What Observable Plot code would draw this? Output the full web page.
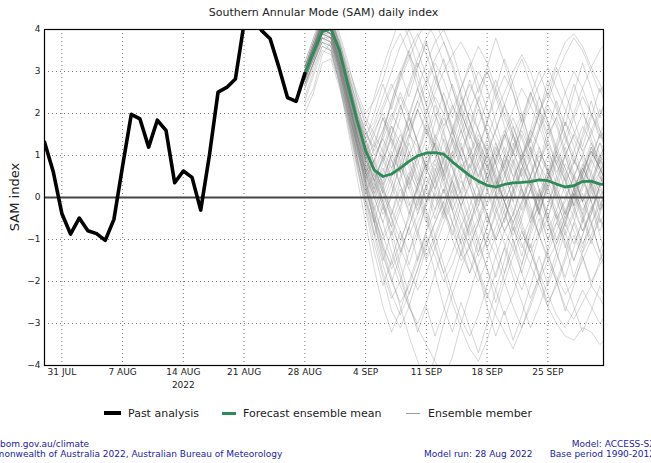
<!DOCTYPE html>
<html><head><meta charset="utf-8">
<script src="https://cdn.jsdelivr.net/npm/d3@7"></script>
<script src="https://cdn.jsdelivr.net/npm/@observablehq/plot@0.6"></script>
<style>
html,body{margin:0;padding:0;background:#fff;overflow:hidden;}
body{width:651px;height:463px;position:relative;font-family:"DejaVu Sans",sans-serif;}
#chart{position:absolute;top:0;left:0;}
#title{position:absolute;top:6px;left:44px;width:559px;text-align:center;font-size:11px;line-height:13px;color:#222;white-space:nowrap;}
#ylabel{position:absolute;left:14px;top:197px;transform:translate(-50%,-50%) rotate(-90deg);font-size:13px;color:#222;white-space:nowrap;}
.lg{position:absolute;font-size:11px;line-height:13px;top:407px;color:#222;white-space:nowrap;}
.sw{position:absolute;}
.ft{position:absolute;font-size:9px;line-height:10px;color:#2222aa;white-space:nowrap;}
</style>
</head><body>
<div id="chart"></div>
<div id="title">Southern Annular Mode (SAM) daily index</div>
<div id="ylabel">SAM index</div>
<div class="sw" style="left:104px;top:411px;width:17px;height:4px;background:#000"></div>
<div class="lg" style="left:128px">Past analysis</div>
<div class="sw" style="left:222px;top:412px;width:14px;height:3px;background:#2e8b57"></div>
<div class="lg" style="left:243px">Forecast ensemble mean</div>
<div class="sw" style="left:406px;top:413px;width:14px;height:1px;background:#999"></div>
<div class="lg" style="left:428px">Ensemble member</div>
<div class="ft" id="f1" style="top:439px">www.bom.gov.au/climate</div>
<div class="ft" id="f2" style="top:449px">© Commonwealth of Australia 2022, Australian Bureau of Meteorology</div>
<div class="ft" style="top:449px;left:424px">Model run: 28 Aug 2022</div>
<div class="ft" style="top:439px;right:-4px;text-align:right">Model: ACCESS-S2<br>Base period 1990-2012</div>
<script>
// Past analysis, daily from 29 Jul 2022 to 28 Aug 2022
const pastStart = "2022-07-29";
const pastValues = [1.32, 0.62, -0.38, -0.87, -0.49, -0.79, -0.86, -1.02, -0.52, 0.75,
  1.98, 1.87, 1.20, 1.84, 1.60, 0.35, 0.63, 0.48, -0.30, 1.00,
  2.51, 2.62, 2.82, 4.15, 4.30, 3.98, 3.78, 3.11, 2.38, 2.29, 2.95];

// Forecast ensemble mean, daily from 28 Aug 2022
const forecastStart = "2022-08-28";
const meanValues = [2.95, 3.45, 3.95, 4.02, 3.50, 2.65, 1.85, 1.12, 0.65, 0.50,
  0.56, 0.70, 0.86, 0.99, 1.06, 1.07, 1.03, 0.85, 0.68, 0.52,
  0.39, 0.29, 0.25, 0.31, 0.35, 0.36, 0.38, 0.42, 0.40, 0.32,
  0.25, 0.28, 0.38, 0.39, 0.32, 0.30];

// Ensemble members (a subset), daily from 28 Aug 2022
const members = [
"2.9 3.5 4.1 4.0 3.3 2.4 1.5 0.8 0.2 -0.3 0.1 0.8 1.5 1.2 0.6 0.9 1.6 2.2 1.8 1.1 0.4 -0.2 0.3 1.0 0.7 0.1 -0.6 -0.2 0.5 1.2 1.8 1.4 0.9 0.3 0.6 1.1",
"3.0 3.6 4.2 4.1 3.4 2.7 2.0 1.5 1.2 1.6 2.3 2.9 3.4 3.0 2.2 1.4 0.8 0.2 -0.4 -0.9 -0.5 0.2 0.9 1.5 1.1 0.5 0.9 1.6 2.1 1.7 1.0 0.4 -0.1 0.3 0.9 0.6",
"2.8 3.3 3.9 3.7 3.0 2.1 1.2 0.3 -0.5 -1.2 -1.6 -1.1 -0.4 0.3 0.8 0.4 -0.3 -1.0 -1.5 -1.2 -0.6 0.1 0.7 1.2 0.8 0.2 -0.4 -0.9 -0.5 0.2 0.8 0.5 -0.1 -0.6 -0.2 0.4",
"3.0 3.5 4.0 4.2 3.6 2.9 2.3 1.8 1.3 0.9 0.4 -0.1 0.5 1.1 1.8 2.4 2.0 1.3 0.7 1.0 1.7 2.3 2.8 2.2 1.5 0.8 0.3 -0.3 0.2 0.8 0.4 -0.2 0.3 1.0 1.5 1.2",
"2.9 3.4 3.8 3.6 2.9 2.0 1.0 0.0 -0.9 -1.8 -2.4 -2.0 -1.3 -0.6 -0.1 0.5 1.1 0.7 0.0 -0.6 -0.2 0.4 1.0 0.6 -0.1 -0.7 -1.3 -0.8 -0.2 0.5 0.1 -0.5 -1.1 -0.7 0.0 0.4",
"3.1 3.7 4.3 4.4 3.8 3.1 2.5 2.0 2.3 2.8 3.5 3.9 3.4 2.6 1.9 1.2 0.6 1.1 1.8 2.5 3.0 2.6 1.8 1.1 0.5 0.9 1.5 2.1 1.7 1.0 0.4 0.8 1.4 2.0 1.6 1.2",
"2.7 3.2 3.7 3.6 2.8 1.9 1.1 0.5 0.0 0.4 1.0 0.6 -0.1 -0.8 -1.4 -0.9 -0.3 0.4 1.1 1.6 1.2 0.5 -0.2 -0.8 -0.4 0.3 1.0 1.6 2.2 1.8 1.1 0.5 -0.1 0.4 1.0 0.7",
"3.0 3.4 4.0 3.9 3.1 2.3 1.4 0.6 0.9 1.5 2.0 1.6 0.9 0.3 -0.3 -0.9 -1.6 -2.3 -2.9 -3.3 -2.8 -2.1 -1.4 -0.8 -1.2 -1.8 -2.4 -1.9 -1.2 -0.6 -1.0 -1.5 -0.9 -0.3 0.2 -0.2",
"2.9 3.5 4.1 3.9 3.2 2.5 1.7 1.0 0.4 -0.2 0.3 1.0 1.7 2.3 2.8 3.3 3.7 3.2 2.5 1.8 1.3 0.7 0.2 0.6 1.2 1.9 2.5 2.0 1.4 0.8 1.3 1.9 2.4 2.0 1.5 1.0",
"2.6 3.1 3.6 3.5 2.7 1.7 0.7 -0.2 -1.1 -1.9 -2.7 -3.1 -2.6 -1.9 -1.2 -0.6 -0.1 0.4 -0.2 -0.8 -1.4 -1.0 -0.3 0.3 0.9 0.5 -0.2 -0.9 -1.5 -1.1 -0.4 0.2 0.7 0.3 -0.3 0.1",
"3.0 3.6 4.1 4.0 3.5 2.8 2.1 1.6 1.0 1.4 1.9 2.5 2.0 1.3 0.7 0.2 0.7 1.3 2.0 1.5 0.8 0.2 -0.5 -1.1 -1.7 -2.2 -1.6 -0.9 -0.2 0.4 1.0 1.5 1.1 0.5 -0.1 -0.6",
"2.9 3.5 4.0 4.1 3.4 2.6 1.8 1.1 0.6 0.1 -0.5 -1.0 -0.5 0.2 0.9 1.5 1.0 0.4 -0.2 0.4 1.1 1.8 2.4 2.9 2.5 1.8 1.1 0.6 0.1 -0.4 -0.9 -0.4 0.2 0.8 1.3 1.0",
"2.3 2.9 3.5 3.4 2.7 1.9 1.0 0.2 -0.5 -1.0 -0.6 0.0 0.6 0.2 -0.4 -1.1 -1.8 -2.5 -3.1 -3.6 -3.9 -3.4 -2.7 -2.0 -1.4 -0.8 -1.3 -1.9 -2.5 -2.1 -1.5 -0.9 -1.4 -2.0 -1.6 -1.2",
"3.1 3.7 4.2 4.3 3.7 3.0 2.4 1.9 1.5 1.1 0.7 1.3 2.0 2.6 3.2 3.7 4.0 3.5 2.8 2.2 1.6 1.1 1.6 2.2 2.8 3.3 2.7 2.1 1.5 1.9 2.5 3.0 2.6 2.0 1.4 1.8",
"2.8 3.4 3.9 3.8 3.0 2.1 1.3 0.6 0.0 -0.6 -1.3 -1.9 -2.6 -3.0 -2.5 -1.8 -1.2 -0.6 0.0 0.6 0.2 -0.4 -1.0 -0.5 0.1 0.7 1.2 0.8 0.2 -0.3 -0.8 -0.3 0.3 0.9 0.5 0.0",
"3.0 3.5 4.0 4.0 3.3 2.5 1.6 0.9 1.3 1.9 1.4 0.8 0.2 -0.3 0.3 0.9 0.4 -0.2 -0.7 -0.2 0.4 1.0 0.5 -0.1 -0.6 -0.1 0.5 1.1 0.7 0.1 -0.5 -0.1 0.6 1.2 0.8 0.3",
"2.9 3.6 4.2 4.0 3.2 2.4 1.5 0.7 0.1 0.6 1.2 1.9 2.6 3.2 2.7 2.0 1.3 0.7 0.1 -0.5 -1.1 -1.7 -2.2 -2.8 -2.3 -1.6 -0.9 -0.3 0.3 0.9 0.4 -0.2 -0.8 -0.4 0.3 0.8",
"3.2 3.8 4.4 4.3 3.7 3.0 2.2 1.5 1.8 2.4 3.0 3.6 4.0 3.5 2.9 2.3 1.7 2.1 2.6 3.1 3.6 3.2 2.6 2.0 1.5 1.0 1.4 2.0 2.6 3.2 3.7 3.9 3.6 3.1 3.5 3.8",
"2.8 3.3 3.8 3.7 3.0 2.2 1.4 0.6 -0.2 -0.9 -0.4 0.2 -0.3 -0.9 -1.5 -1.0 -0.4 0.2 0.8 0.3 -0.3 -0.9 -1.4 -2.0 -2.6 -3.1 -2.6 -2.0 -1.5 -2.0 -2.6 -2.9 -2.5 -2.1 -2.4 -2.8",
"3.0 3.5 4.1 3.9 3.1 2.3 1.5 0.9 0.5 0.9 1.4 0.9 0.3 0.8 1.4 2.0 1.5 0.9 1.4 2.0 1.6 1.0 0.4 -0.1 0.4 1.0 1.6 1.2 0.6 0.0 0.5 1.1 1.7 1.3 0.7 0.2",
"2.9 3.4 4.0 4.0 3.3 2.6 1.9 1.2 0.7 0.2 -0.3 -0.8 -1.3 -0.8 -0.2 0.4 0.9 1.4 1.0 0.4 -0.1 0.4 0.9 1.4 1.9 1.4 0.8 0.2 -0.4 -1.0 -0.5 0.1 -0.4 -1.0 -1.5 -1.1",
"3.0 3.6 4.1 4.1 3.5 2.7 1.9 1.3 1.7 2.2 2.7 2.2 1.6 2.1 2.7 3.2 2.8 2.2 1.6 1.0 0.5 1.0 1.6 2.2 1.7 1.1 0.5 -0.1 0.4 1.0 1.5 1.0 0.4 0.9 1.5 2.0",
"2.7 3.2 3.8 3.7 2.9 2.0 1.1 0.3 -0.6 -1.4 -2.0 -2.5 -2.1 -1.5 -0.9 -1.4 -2.0 -1.6 -1.0 -0.4 0.1 -0.4 -1.0 -0.5 0.1 0.6 0.2 -0.4 -1.0 -0.6 0.0 0.5 1.0 0.6 0.1 -0.4",
"2.9 3.5 4.0 3.9 3.2 2.4 1.6 1.0 1.5 2.1 2.6 3.0 3.5 3.9 3.4 2.8 2.3 1.7 1.2 0.7 1.2 1.8 1.3 0.7 0.2 -0.3 0.2 0.8 1.3 0.8 0.2 -0.3 -0.8 -0.3 0.3 0.8",
"3.1 3.7 4.3 4.2 3.5 2.8 2.0 1.3 0.7 0.1 0.6 1.2 0.7 0.1 -0.5 -1.2 -1.8 -1.3 -0.7 -1.2 -1.8 -2.4 -1.8 -1.2 -0.6 -0.1 0.4 -0.1 -0.6 -1.1 -0.6 0.0 0.6 1.1 0.7 0.2",
"2.4 3.0 3.6 3.5 2.8 2.0 1.3 0.6 0.1 0.5 1.0 1.5 1.1 0.5 -0.1 0.4 1.0 1.6 2.2 2.7 2.2 1.6 1.0 1.5 2.1 2.6 2.2 1.7 1.1 0.6 1.0 1.5 2.0 1.6 1.0 1.4",
"3.0 3.5 4.1 4.1 3.4 2.6 1.8 1.0 0.4 -0.1 -0.7 -0.2 0.4 1.0 1.6 1.2 0.6 0.0 -0.6 -1.2 -1.7 -2.3 -2.8 -3.2 -3.6 -3.1 -2.5 -1.9 -1.3 -0.8 -0.3 -0.8 -1.3 -0.9 -0.3 0.1",
"2.9 3.4 3.9 3.8 3.1 2.2 1.3 0.5 0.9 1.4 0.9 0.3 -0.2 0.2 0.7 1.3 1.9 1.4 0.8 0.3 0.8 1.3 0.8 0.2 -0.3 -0.8 -1.3 -1.8 -2.3 -2.8 -3.1 -2.7 -2.2 -2.6 -3.0 -2.7",
"3.0 3.6 4.2 4.2 3.6 2.9 2.2 1.6 1.1 1.6 2.2 2.8 3.3 3.8 4.2 3.8 3.2 2.6 2.0 1.5 1.0 0.5 0.0 0.5 1.1 1.7 2.2 2.7 3.1 2.6 2.1 1.6 1.1 1.5 2.0 2.4",
"2.8 3.3 3.9 3.8 3.0 2.1 1.2 0.4 -0.3 -0.9 -1.5 -2.1 -2.6 -3.1 -3.5 -3.9 -4.3 -3.8 -3.0 -2.3 -1.6 -1.0 -0.4 0.1 -0.4 -1.0 -0.5 0.1 0.6 0.2 -0.3 0.2 0.7 0.3 -0.2 0.2",
"3.0 3.5 4.0 4.0 3.3 2.5 1.7 1.0 0.6 1.1 1.7 1.3 0.8 0.3 0.8 1.3 0.9 0.3 -0.2 0.3 0.9 1.4 2.0 2.5 3.0 3.4 3.0 2.4 1.8 1.2 0.7 0.2 -0.3 0.1 0.6 1.0",
"2.9 3.4 4.0 3.9 3.2 2.3 1.4 0.7 0.2 0.7 0.3 -0.3 -0.9 -0.4 0.2 0.8 0.3 -0.3 0.2 0.8 1.3 0.9 0.3 0.8 1.3 0.8 0.3 0.8 1.4 1.9 1.4 0.9 0.4 -0.1 -0.6 -0.2",
"3.1 3.6 4.2 4.1 3.5 2.8 2.1 1.4 0.8 0.3 0.7 1.2 1.7 2.3 1.8 1.2 0.6 0.1 0.6 1.2 0.7 0.2 -0.3 -0.8 -0.4 0.2 -0.3 -0.9 -1.4 -1.9 -2.3 -2.0 -1.5 -1.0 -0.5 -0.9",
"2.9 3.5 4.1 4.0 3.2 2.3 1.5 0.7 0.1 -0.4 0.0 0.5 1.0 1.5 2.0 2.5 3.0 3.4 3.7 3.3 2.7 2.1 1.5 1.0 0.5 0.0 0.5 1.0 0.6 0.1 -0.4 0.1 0.6 1.1 0.7 0.3",
"2.8 3.4 3.9 3.9 3.1 2.2 1.3 0.4 -0.4 -1.1 -1.7 -1.3 -0.7 -0.1 0.5 0.0 -0.5 0.0 0.5 1.0 1.5 1.1 0.5 -0.1 -0.6 -1.1 -1.6 -2.1 -2.6 -3.0 -3.3 -3.4 -3.1 -3.2 -3.5 -3.3",
"3.0 3.6 4.1 4.1 3.4 2.6 1.7 1.1 1.6 2.0 1.5 1.0 1.5 2.1 1.6 1.0 0.5 1.0 1.6 2.1 2.6 3.0 2.5 1.9 1.4 0.9 1.4 2.0 2.5 2.1 1.5 2.0 2.6 3.1 2.7 2.2",
"2.9 3.5 4.0 3.9 3.1 2.3 1.5 0.8 0.3 -0.2 -0.7 -1.2 -1.7 -2.2 -1.8 -1.2 -0.6 -0.1 0.4 0.0 -0.6 -1.2 -0.7 -0.1 0.4 1.0 0.5 0.0 0.5 1.1 0.7 0.2 0.7 1.3 0.9 0.4",
"3.0 3.5 4.1 4.0 3.3 2.4 1.6 0.9 0.4 0.9 1.5 2.1 2.7 3.3 3.8 4.2 3.7 3.1 2.4 1.8 1.2 0.7 1.1 1.6 1.1 0.6 1.1 1.7 2.3 2.9 3.4 3.8 3.5 3.0 2.5 2.9",
"2.0 2.5 3.2 3.3 2.6 1.8 0.9 0.1 -0.8 -1.6 -2.3 -2.8 -2.3 -1.7 -1.1 -0.6 -0.1 -0.6 -1.1 -0.6 0.0 0.6 0.1 -0.4 -0.9 -0.4 0.2 0.8 0.4 -0.1 -0.6 -1.1 -0.6 0.0 0.5 0.1",
"3.0 3.6 4.2 4.1 3.4 2.6 1.8 1.2 0.7 1.2 1.8 2.4 1.9 1.3 0.7 0.2 -0.3 -0.8 -1.3 -1.8 -1.3 -0.7 -0.1 0.5 1.1 1.6 1.1 0.5 0.0 -0.5 -0.1 0.5 1.0 1.6 2.1 1.7",
"2.7 3.2 3.7 3.5 2.7 1.6 0.5 -0.6 -1.7 -2.6 -3.2 -2.7 -2.0 -1.4 -0.8 -0.3 0.2 -0.3 -0.9 -1.5 -2.0 -1.5 -0.9 -0.3 0.2 0.7 0.3 -0.3 -0.8 -0.3 0.3 0.9 0.5 -0.1 0.4 0.9",
"3.0 3.5 4.0 3.8 3.0 2.1 1.2 0.4 -0.4 -1.2 -1.9 -2.6 -3.3 -3.9 -4.4 -3.8 -3.0 -2.3 -1.7 -1.1 -0.6 -0.1 0.4 -0.1 -0.7 -1.2 -0.7 -0.1 0.5 1.0 0.6 0.0 0.5 1.1 0.7 0.2",
"2.9 3.3 3.9 4.0 3.4 2.5 1.4 0.4 0.9 0.3 1.1 0.6 1.4 2.1 1.5 2.2 1.6 0.8 1.3 0.5 -0.2 0.6 1.3 0.7 1.5 2.0 1.2 0.4 1.0 0.3 -0.4 0.2 -0.5 0.3 1.0 0.4",
"3.0 3.6 4.0 3.9 3.3 2.2 1.0 -0.1 -0.6 0.2 -0.5 -1.3 -0.7 -1.5 -0.8 0.1 -0.4 0.5 1.2 0.6 1.4 0.8 0.1 0.9 0.2 -0.6 -1.2 -0.5 -1.3 -2.0 -1.4 -0.6 -1.2 -0.4 0.3 -0.3",
"2.8 3.4 4.1 4.2 3.7 2.9 2.0 1.4 2.0 2.7 2.1 2.9 3.5 2.8 2.2 2.9 2.3 1.6 0.9 1.7 2.4 1.8 2.6 3.3 2.7 2.0 1.3 2.0 2.8 2.2 1.5 0.8 1.5 2.3 1.6 1.0",
"3.0 3.5 3.9 3.8 3.1 2.0 0.9 0.1 0.6 -0.1 -0.9 -0.3 0.5 -0.2 0.6 1.3 0.5 -0.3 -1.1 -1.8 -1.0 -1.7 -2.5 -1.8 -1.0 -1.6 -0.8 -0.1 0.7 0.0 -0.7 0.1 0.8 0.2 -0.5 -1.1",
"2.9 3.5 4.2 4.3 3.6 2.7 1.8 0.9 0.3 1.0 1.7 1.1 0.4 -0.4 0.3 -0.3 0.6 1.4 2.1 2.8 2.2 1.5 0.8 0.1 0.8 1.5 0.9 0.2 -0.5 -1.3 -0.6 0.1 -0.6 0.2 0.9 1.6",
"2.2 2.6 3.4 3.7 3.1 2.3 1.3 0.5 -0.3 0.3 -0.4 0.4 1.1 0.4 1.2 0.5 -0.2 -0.9 -0.2 -1.0 -1.8 -2.6 -3.3 -2.7 -3.4 -2.8 -2.1 -1.4 -2.1 -1.5 -0.8 -1.5 -0.9 -0.2 -0.9 -1.5",
"3.1 3.7 4.3 4.1 3.4 2.6 1.9 1.4 0.8 1.5 2.3 3.0 2.4 3.1 3.7 3.0 2.3 1.6 2.4 1.8 1.1 0.4 1.2 0.6 -0.1 0.7 1.4 0.8 1.6 2.3 1.7 2.5 3.2 2.6 1.9 2.6",
"2.9 3.4 4.0 3.9 3.2 2.4 1.3 0.3 -0.6 -1.5 -0.8 -1.6 -2.3 -1.7 -1.0 -1.8 -2.6 -3.2 -2.5 -3.1 -3.7 -3.0 -2.2 -1.5 -0.7 -1.4 -0.6 0.1 -0.5 0.3 1.0 0.3 -0.4 0.4 -0.3 0.5",
"3.0 3.6 4.1 4.2 3.5 2.6 1.6 0.6 1.2 1.9 1.3 0.6 1.3 0.7 -0.1 0.6 1.4 0.8 0.1 0.8 0.2 -0.6 0.1 0.8 1.5 0.9 1.6 2.4 1.8 1.1 1.8 1.2 0.5 1.2 0.6 -0.1",
"2.8 3.3 3.8 3.7 2.9 1.9 0.8 -0.3 -1.3 -2.1 -1.5 -0.8 -1.6 -0.9 -0.1 0.7 0.1 0.9 1.6 1.0 0.3 1.1 0.4 -0.3 -1.0 -1.8 -1.1 -1.9 -2.6 -2.0 -2.7 -2.1 -1.4 -2.1 -1.5 -0.8",
"3.0 3.5 4.1 4.1 3.5 2.8 2.0 1.3 0.7 0.2 0.9 0.3 -0.4 0.3 1.0 1.8 2.5 1.9 2.6 3.2 2.5 3.1 3.8 3.2 2.5 1.8 2.5 1.9 1.2 0.5 1.2 0.6 -0.1 0.6 1.3 0.7",
"2.9 3.5 4.0 4.0 3.3 2.4 1.5 0.6 0.0 -0.6 0.1 0.8 0.2 1.0 1.7 1.1 0.4 1.1 0.5 -0.3 -1.0 -0.4 -1.1 -1.8 -1.2 -0.5 0.2 -0.4 0.4 1.1 0.5 -0.2 0.5 -0.1 -0.8 -0.2",
"3.2 3.8 4.3 4.4 3.9 3.2 2.4 1.7 2.4 3.1 3.7 4.3 3.8 3.1 3.7 3.0 2.2 1.5 2.2 1.6 2.3 3.0 2.4 1.7 1.0 1.7 2.4 3.0 2.4 3.1 2.5 1.9 1.2 1.9 2.6 2.0",
"2.7 3.2 3.7 3.6 2.8 1.8 0.8 -0.1 -0.9 -0.2 -1.0 -1.8 -2.5 -3.2 -2.6 -3.3 -2.7 -2.0 -1.3 -0.6 -1.3 -0.7 0.1 -0.6 0.2 0.9 0.3 -0.4 0.3 -0.5 -1.2 -0.6 0.1 -0.6 -1.3 -0.7",
"3.0 3.6 4.1 4.0 3.4 2.5 1.7 0.8 0.2 0.8 1.5 2.2 1.6 0.9 0.2 -0.5 0.2 -0.6 -1.4 -0.7 0.1 0.8 0.2 1.0 1.7 1.1 0.4 -0.3 -1.0 -0.4 -1.1 -1.9 -1.3 -0.6 -1.3 -2.0",
"2.9 3.5 4.0 3.9 3.2 2.3 1.5 0.9 0.4 1.0 0.5 1.2 1.9 1.3 0.7 1.4 2.0 2.7 2.1 1.4 2.1 1.5 0.8 1.5 0.9 0.2 -0.5 0.2 -0.6 -1.3 -2.0 -2.6 -3.2 -2.7 -2.1 -2.6",
"3.1 3.6 4.2 4.3 3.6 2.8 1.9 1.0 0.5 -0.1 0.5 1.2 1.9 2.6 2.0 2.7 3.3 2.6 1.9 1.2 0.5 1.2 0.6 -0.1 -0.8 -0.2 0.5 1.2 0.6 1.3 2.0 2.7 2.1 1.4 0.8 1.5",
"2.6 3.2 3.8 3.8 3.1 2.2 1.2 0.2 -0.6 -1.3 -2.0 -1.4 -0.7 0.0 -0.6 0.2 0.9 1.6 1.0 0.3 -0.4 -1.2 -1.9 -1.2 -1.9 -2.5 -3.1 -2.6 -2.0 -1.3 -1.9 -1.2 -0.5 -1.1 -0.4 0.3"
];

// Axis ticks
const xTickDates = ["2022-07-31","2022-08-07","2022-08-14","2022-08-21","2022-08-28","2022-09-04","2022-09-11","2022-09-18","2022-09-25"];
const xTickLabels = ["31 JUL","7 AUG","14 AUG","21 AUG","28 AUG","4 SEP","11 SEP","18 SEP","25 SEP"];
const yearLabel = {date: "2022-08-14", text: "2022"};
const yTicks = [-4,-3,-2,-1,0,1,2,3,4];
const yGrid = [-3,-2,-1,1,2,3];

const DAY = 864e5;
const utc = s => new Date(s + "T00:00:00Z");
const past = pastValues.map((v,i) => ({date: new Date(+utc(pastStart) + i*DAY), value: v}));
const mean = meanValues.map((v,i) => ({date: new Date(+utc(forecastStart) + i*DAY), value: v}));
const ens = members.flatMap((s,m) => s.trim().split(/\s+/).map((v,i) => ({member: m, date: new Date(+utc(forecastStart) + i*DAY), value: +v})));
const tickDates = xTickDates.map(utc);
const labelOf = new Map(tickDates.map((d,i) => [+d, xTickLabels[i]]));

const chart = Plot.plot({
  width: 651, height: 400,
  marginLeft: 44, marginRight: 48, marginTop: 29, marginBottom: 35,
  style: {fontFamily: "DejaVu Sans", fontSize: "9px", color: "#222", background: "white", overflow: "visible"},
  x: {type: "utc", domain: [utc("2022-07-29"), new Date(Date.UTC(2022,9,1,10))],
      ticks: tickDates, tickFormat: d => labelOf.get(+d), tickSize: 0, tickPadding: 3, label: null},
  y: {domain: [-4, 4], ticks: yTicks, tickFormat: d => d < 0 ? "\u2212" + (-d) : String(d),
      tickSize: 0, tickPadding: 4, label: null},
  marks: [
    Plot.ruleY(yGrid, {stroke: "#777", strokeDasharray: "1,3", strokeWidth: 1}),
    Plot.ruleX(tickDates, {stroke: "#777", strokeDasharray: "1,3", strokeWidth: 1}),
    Plot.line(ens, {x: "date", y: "value", z: "member", stroke: "#7a7a7a", strokeOpacity: 0.3, strokeWidth: 1, clip: true}),
    Plot.ruleY([0], {stroke: "#454545", strokeWidth: 1.8}),
    Plot.line(mean, {x: "date", y: "value", stroke: "#2e8b57", strokeWidth: 2.8, clip: true}),
    Plot.line(past, {x: "date", y: "value", stroke: "black", strokeWidth: 3.6, clip: true}),
    Plot.frame({stroke: "black", strokeWidth: 1.2}),
    Plot.text([yearLabel], {x: d => utc(d.date), text: "text", frameAnchor: "bottom", dy: 20, lineAnchor: "middle", fill: "#222", fontSize: 9})
  ]
});
document.getElementById("chart").appendChild(chart);

// footer left lines are cut by the page edge in the reference
const cv = document.createElement("canvas").getContext("2d");
cv.font = "9px 'DejaVu Sans'";
document.getElementById("f1").style.left = (-cv.measureText("www.").width) + "px";
document.getElementById("f2").style.left = (-(cv.measureText("\u00a9 Com").width + 0.5*cv.measureText("m").width)) + "px";
</script>
</body></html>
